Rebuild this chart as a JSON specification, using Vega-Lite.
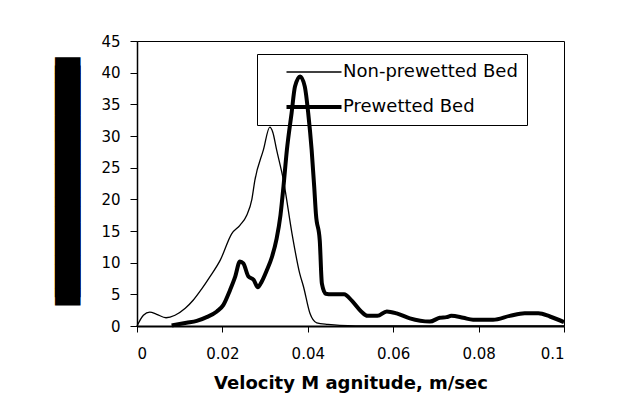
{
  "$schema": "https://vega.github.io/schema/vega-lite/v6.json",
  "width": 427,
  "height": 285,
  "autosize": "none",
  "padding": {"left": 137, "top": 41, "right": 63, "bottom": 85},
  "background": "white",
  "config": {
    "view": {"stroke": "black", "strokeWidth": 1},
    "axis": {
      "labelFont": "DejaVu Sans",
      "labelFontSize": 15,
      "labelColor": "black",
      "tickColor": "black",
      "domainColor": "black",
      "grid": false,
      "titleColor": "black"
    },
    "legend": {
      "labelFont": "DejaVu Sans",
      "labelFontSize": 18,
      "labelColor": "black",
      "labelLimit": 400
    }
  },
  "data": {
    "values": [
      {"series": "Non-prewetted Bed", "v": 0, "f": 0},
      {"series": "Non-prewetted Bed", "v": 0.0015, "f": 1.7},
      {"series": "Non-prewetted Bed", "v": 0.003, "f": 2.2},
      {"series": "Non-prewetted Bed", "v": 0.0046, "f": 1.85},
      {"series": "Non-prewetted Bed", "v": 0.0068, "f": 1.3},
      {"series": "Non-prewetted Bed", "v": 0.0089, "f": 1.7},
      {"series": "Non-prewetted Bed", "v": 0.0113, "f": 2.8},
      {"series": "Non-prewetted Bed", "v": 0.0132, "f": 4.1},
      {"series": "Non-prewetted Bed", "v": 0.0152, "f": 5.9},
      {"series": "Non-prewetted Bed", "v": 0.0171, "f": 7.8},
      {"series": "Non-prewetted Bed", "v": 0.0195, "f": 10.4},
      {"series": "Non-prewetted Bed", "v": 0.0222, "f": 14.6},
      {"series": "Non-prewetted Bed", "v": 0.0241, "f": 15.9},
      {"series": "Non-prewetted Bed", "v": 0.0257, "f": 17.5},
      {"series": "Non-prewetted Bed", "v": 0.0269, "f": 20.0},
      {"series": "Non-prewetted Bed", "v": 0.0276, "f": 23.0},
      {"series": "Non-prewetted Bed", "v": 0.0296, "f": 27.8},
      {"series": "Non-prewetted Bed", "v": 0.0311, "f": 31.4},
      {"series": "Non-prewetted Bed", "v": 0.0318, "f": 30.6},
      {"series": "Non-prewetted Bed", "v": 0.0327, "f": 27.8},
      {"series": "Non-prewetted Bed", "v": 0.0343, "f": 23.0},
      {"series": "Non-prewetted Bed", "v": 0.0363, "f": 14.6},
      {"series": "Non-prewetted Bed", "v": 0.0381, "f": 8.3},
      {"series": "Non-prewetted Bed", "v": 0.039, "f": 6.2},
      {"series": "Non-prewetted Bed", "v": 0.0405, "f": 2.0},
      {"series": "Non-prewetted Bed", "v": 0.0421, "f": 0.5},
      {"series": "Non-prewetted Bed", "v": 0.0447, "f": 0.25},
      {"series": "Non-prewetted Bed", "v": 0.0475, "f": 0.1},
      {"series": "Non-prewetted Bed", "v": 0.055, "f": 0},
      {"series": "Non-prewetted Bed", "v": 0.1, "f": 0},
      {"series": "Prewetted Bed", "v": 0.0081, "f": 0.1},
      {"series": "Prewetted Bed", "v": 0.0116, "f": 0.5},
      {"series": "Prewetted Bed", "v": 0.014, "f": 0.8},
      {"series": "Prewetted Bed", "v": 0.0163, "f": 1.4},
      {"series": "Prewetted Bed", "v": 0.0187, "f": 2.3},
      {"series": "Prewetted Bed", "v": 0.0202, "f": 3.3},
      {"series": "Prewetted Bed", "v": 0.0218, "f": 5.7},
      {"series": "Prewetted Bed", "v": 0.023, "f": 7.8},
      {"series": "Prewetted Bed", "v": 0.0241, "f": 10.2},
      {"series": "Prewetted Bed", "v": 0.0249, "f": 9.9},
      {"series": "Prewetted Bed", "v": 0.0261, "f": 7.8},
      {"series": "Prewetted Bed", "v": 0.0273, "f": 7.3},
      {"series": "Prewetted Bed", "v": 0.0283, "f": 6.1},
      {"series": "Prewetted Bed", "v": 0.0292, "f": 7.0},
      {"series": "Prewetted Bed", "v": 0.0304, "f": 8.8},
      {"series": "Prewetted Bed", "v": 0.0316, "f": 10.9},
      {"series": "Prewetted Bed", "v": 0.0327, "f": 13.8},
      {"series": "Prewetted Bed", "v": 0.0336, "f": 17.5},
      {"series": "Prewetted Bed", "v": 0.0343, "f": 22.0},
      {"series": "Prewetted Bed", "v": 0.0351, "f": 27.8},
      {"series": "Prewetted Bed", "v": 0.0362, "f": 33.6},
      {"series": "Prewetted Bed", "v": 0.037, "f": 37.8},
      {"series": "Prewetted Bed", "v": 0.0382, "f": 39.4},
      {"series": "Prewetted Bed", "v": 0.0393, "f": 37.8},
      {"series": "Prewetted Bed", "v": 0.0401, "f": 33.6},
      {"series": "Prewetted Bed", "v": 0.0409, "f": 27.8},
      {"series": "Prewetted Bed", "v": 0.0415, "f": 22.0},
      {"series": "Prewetted Bed", "v": 0.0419, "f": 17.7},
      {"series": "Prewetted Bed", "v": 0.0428, "f": 13.5},
      {"series": "Prewetted Bed", "v": 0.0433, "f": 6.7},
      {"series": "Prewetted Bed", "v": 0.0442, "f": 5.1},
      {"series": "Prewetted Bed", "v": 0.0456, "f": 5.0},
      {"series": "Prewetted Bed", "v": 0.0485, "f": 5.0},
      {"series": "Prewetted Bed", "v": 0.0503, "f": 4.0},
      {"series": "Prewetted Bed", "v": 0.0525, "f": 2.3},
      {"series": "Prewetted Bed", "v": 0.054, "f": 1.6},
      {"series": "Prewetted Bed", "v": 0.0563, "f": 1.6},
      {"series": "Prewetted Bed", "v": 0.0585, "f": 2.3},
      {"series": "Prewetted Bed", "v": 0.0608, "f": 2.0},
      {"series": "Prewetted Bed", "v": 0.0639, "f": 1.2},
      {"series": "Prewetted Bed", "v": 0.0686, "f": 0.7},
      {"series": "Prewetted Bed", "v": 0.0709, "f": 1.3},
      {"series": "Prewetted Bed", "v": 0.0725, "f": 1.4},
      {"series": "Prewetted Bed", "v": 0.0736, "f": 1.6},
      {"series": "Prewetted Bed", "v": 0.0764, "f": 1.3},
      {"series": "Prewetted Bed", "v": 0.0787, "f": 1.0},
      {"series": "Prewetted Bed", "v": 0.0834, "f": 1.0},
      {"series": "Prewetted Bed", "v": 0.0873, "f": 1.6},
      {"series": "Prewetted Bed", "v": 0.0908, "f": 2.0},
      {"series": "Prewetted Bed", "v": 0.094, "f": 2.0},
      {"series": "Prewetted Bed", "v": 0.0967, "f": 1.5},
      {"series": "Prewetted Bed", "v": 0.1, "f": 0.6}
    ]
  },
  "encoding": {
    "x": {
      "field": "v",
      "type": "quantitative",
      "scale": {"domain": [0, 0.1], "nice": false},
      "axis": {
        "values": [0, 0.02, 0.04, 0.06, 0.08, 0.1],
        "format": "~g",
        "tickSize": 6,
        "labelPadding": 14,
        "domainWidth": 2,
        "title": "Velocity M agnitude, m/sec",
        "titleFont": "DejaVu Sans",
        "titleFontSize": 18,
        "titleFontWeight": "bold",
        "titleBaseline": "middle",
        "titleY": 57
      }
    }
  },
  "layer": [
    {
      "mark": {"type": "line", "interpolate": "monotone", "color": "black"},
      "encoding": {
        "y": {
          "field": "f",
          "type": "quantitative",
          "scale": {"domain": [0, 45], "nice": false},
          "axis": {
            "orient": "left",
            "values": [0, 5, 10, 15, 20, 25, 30, 35, 40, 45],
            "tickSize": 7,
            "labelPadding": 10,
            "domainWidth": 1.5,
            "title": "███████████████",
            "titleFont": "DejaVu Sans",
            "titleFontSize": 21.5,
            "titleFontWeight": "normal",
            "titleBaseline": "middle",
            "titleAngle": -90,
            "titleX": -68.5,
            "titleY": 140
          }
        },
        "strokeWidth": {
          "field": "series",
          "type": "nominal",
          "scale": {"type": "ordinal", "domain": ["Non-prewetted Bed", "Prewetted Bed"], "range": [1.3, 4]},
          "legend": {
            "title": null,
            "orient": "none",
            "legendX": 120,
            "legendY": 13,
            "padding": 9,
            "fillColor": null,
            "strokeColor": "black",
            "symbolType": "M-5,0L5,0",
            "symbolSize": 121,
            "symbolStrokeColor": "black",
            "symbolOffset": 39,
            "labelOffset": 20,
            "rowPadding": 17
          }
        }
      }
    },
    {
      "mark": {"type": "line", "interpolate": "monotone", "opacity": 0},
      "encoding": {
        "y": {
          "field": "f",
          "type": "quantitative",
          "scale": {"domain": [0, 45], "nice": false},
          "axis": {
            "orient": "left",
            "labels": false,
            "ticks": false,
            "domain": false,
            "title": "██████████████",
            "titleFont": "DejaVu Sans",
            "titleFontSize": 21.5,
            "titleFontWeight": "normal",
            "titleColor": "black",
            "titleBaseline": "middle",
            "titleAngle": -90,
            "titleX": -68.5,
            "titleY": 140
          }
        },
        "detail": {"field": "series"}
      }
    }
  ],
  "resolve": {"axis": {"y": "independent"}}
}
